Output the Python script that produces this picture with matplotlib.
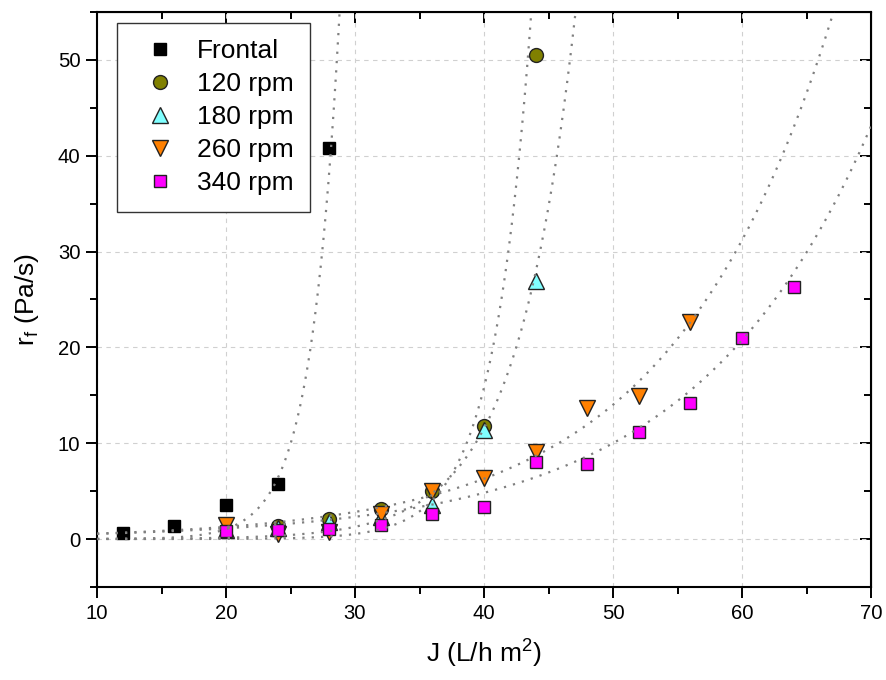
import numpy as np
import matplotlib
matplotlib.use('Agg')
import matplotlib.pyplot as plt
from matplotlib.ticker import MultipleLocator

plt.rcParams['font.family'] = ['Liberation Sans', 'DejaVu Sans']

# measured points, J (L/h m2) vs rf (Pa/s)
J_frontal = [12, 16, 20, 24, 28]
r_frontal = [0.6, 1.4, 3.6, 5.7, 40.8]

J_120 = [24, 28, 32, 36, 40, 44]
r_120 = [1.4, 2.1, 3.1, 5.0, 11.8, 50.5]

J_180 = [20, 24, 28, 32, 36, 40, 44]
r_180 = [0.9, 1.2, 1.8, 2.3, 3.6, 11.4, 26.9]

J_260 = [20, 24, 28, 32, 36, 40, 44, 48, 52, 56]
r_260 = [1.5, 0.5, 0.7, 2.6, 5.0, 6.4, 9.1, 13.7, 14.9, 22.6]

J_340 = [20, 24, 28, 32, 36, 40, 44, 48, 52, 56, 60, 64]
r_340 = [0.85, 0.9, 1.1, 1.45, 2.6, 3.3, 8.05, 7.8, 11.2, 14.2, 21.0, 26.3]

labels = ['Frontal', '120 rpm', '180 rpm', '260 rpm', '340 rpm']

# exponential fits: rf = exp(b*(J - j1))
fit_b = [0.45, 0.34, 0.22, 0.08, 0.073]
fit_j1 = [19.9, 31.88, 28.88, 17.0, 18.45]

series = [(J_frontal, r_frontal, 's', 'black', 9.0),
          (J_120, r_120, 'o', '#808000', 10.0),
          (J_180, r_180, '^', '#80ffff', 11.0),
          (J_260, r_260, 'v', '#ff8000', 11.0),
          (J_340, r_340, 's', '#ff00ff', 8.4)]

fig = plt.figure(figsize=(8.86, 6.8), dpi=100)
ax = fig.add_axes([0.1095, 0.1368, 0.8736, 0.8456])

for (x, y, m, c, ms), lab in zip(series, labels):
    ax.plot(x, y, linestyle='none', marker=m, markersize=ms,
            markerfacecolor=c, markeredgecolor='#222222' if c != 'black' else 'black',
            markeredgewidth=1.0, label=lab, zorder=3)

xx = np.linspace(10, 70, 600)
for b, j1 in zip(fit_b, fit_j1):
    ax.plot(xx, np.exp(b * (xx - j1)), color='#808080', lw=1.6,
            linestyle=(0, (1.0, 3.2)), zorder=4)

ax.set_xlim(10, 70)
ax.set_ylim(-5, 55)
ax.xaxis.set_major_locator(MultipleLocator(10))
ax.xaxis.set_minor_locator(MultipleLocator(5))
ax.yaxis.set_major_locator(MultipleLocator(10))
ax.yaxis.set_minor_locator(MultipleLocator(5))
ax.grid(True, which='major', color='#d0d0d0', linestyle=(0, (4, 4)), linewidth=0.8)
ax.set_axisbelow(True)

for s in ax.spines.values():
    s.set_linewidth(1.5)
ax.tick_params(which='major', direction='out', length=8, width=1.4, labelsize=14.6, pad=4)
ax.tick_params(which='minor', direction='out', length=5, width=1.4)

# mirrored inward ticks on top and right
top = ax.secondary_xaxis('top')
top.xaxis.set_major_locator(MultipleLocator(10))
top.xaxis.set_minor_locator(MultipleLocator(5))
top.tick_params(which='major', direction='in', length=8, width=1.4, labeltop=False)
top.tick_params(which='minor', direction='in', length=5, width=1.4)
right = ax.secondary_yaxis('right')
right.yaxis.set_major_locator(MultipleLocator(10))
right.yaxis.set_minor_locator(MultipleLocator(5))
right.tick_params(which='major', direction='in', length=8, width=1.4, labelright=False)
right.tick_params(which='minor', direction='in', length=5, width=1.4)

ax.set_xlabel(r'J (L/h m$^\mathregular{2}$)', fontsize=19, labelpad=10)
ax.set_ylabel(r'r$_\mathregular{f}$ (Pa/s)', fontsize=19, labelpad=12)

leg = ax.legend(loc='upper left', bbox_to_anchor=(0.026, 0.981), borderaxespad=0,
                fontsize=19, labelspacing=0.34, handlelength=2.0, handletextpad=0.4,
                borderpad=0.62, fancybox=False, framealpha=1, edgecolor='#333333')
leg.get_frame().set_linewidth(1.0)

fig.savefig('out.png', dpi=100)
